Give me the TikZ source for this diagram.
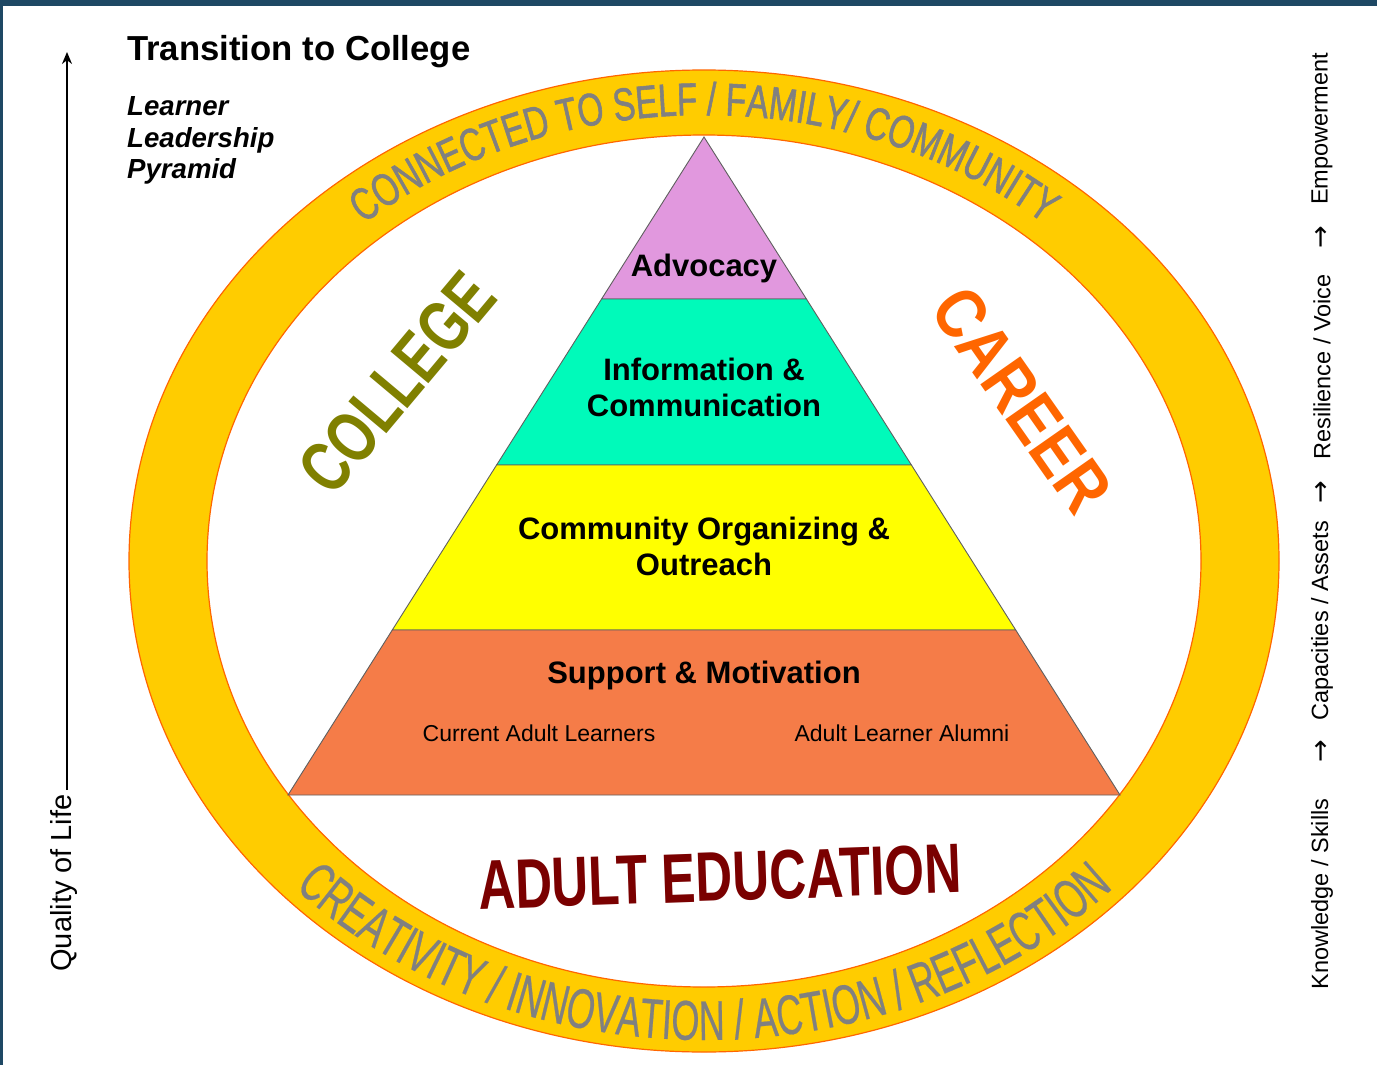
\documentclass[tikz,border=0pt]{standalone}
\usepackage{fontspec}
\setmainfont{Liberation Sans}
\newfontfamily\arrfont{DejaVu Sans}
\newfontfamily\topringfont[FakeStretch=0.72,FakeBold=1.2]{Liberation Sans}
\newfontfamily\botringfont[FakeStretch=0.645,FakeBold=0.4]{Liberation Sans}
\newfontfamily\collegefont[FakeStretch=0.75]{Liberation Sans}
\newfontfamily\careerfont[FakeStretch=0.85]{Liberation Sans}
\newfontfamily\adultfont[FakeStretch=0.73]{Liberation Sans}
\usetikzlibrary{decorations.text,arrows.meta}

\definecolor{topbar}{RGB}{30,72,100}
\definecolor{ringyellow}{RGB}{255,204,0}
\definecolor{ringedge}{RGB}{255,102,0}
\definecolor{ringgray}{RGB}{128,128,128}
\definecolor{advoc}{RGB}{225,152,222}
\definecolor{infoc}{RGB}{0,250,186}
\definecolor{commc}{RGB}{255,255,0}
\definecolor{suppc}{RGB}{245,124,72}
\definecolor{olivec}{RGB}{128,128,0}
\definecolor{careerc}{RGB}{255,102,0}
\definecolor{adultc}{RGB}{122,0,0}
\definecolor{edgegray}{RGB}{95,95,95}

\tikzset{
  layer/.style={draw=edgegray, line width=0.9},
  head/.style={font=\bfseries\fontsize{31}{36}\selectfont, anchor=base, inner sep=0},
  sub/.style={font=\fontsize{23}{26}\selectfont, anchor=base, inner sep=0},
  side/.style={font=\fontsize{23.5}{26}\selectfont, rotate=90, inner sep=0},
  sidearrow/.style={font=\arrfont\fontsize{27}{30}\selectfont, rotate=90, inner sep=0},
  ital/.style={font=\bfseries\itshape\fontsize{27.6}{30}\selectfont, anchor=base west, inner sep=0},
}

\begin{document}
\begin{tikzpicture}[x=1pt,y=-1pt]
\useasboundingbox (0,0) rectangle (1377,1065);
\fill[white] (0,0) rectangle (1377,1065);
\fill[topbar] (0,0) rectangle (1377,6);
\fill[topbar] (0,0) rectangle (3,1065);

% ring
\path[fill=ringyellow, draw=ringedge, line width=1.2, even odd rule]
  (704,561) ellipse [x radius=575, y radius=491]
  (704,561) ellipse [x radius=497, y radius=426];

% ring texts
\path[decorate, decoration={text along path, text align=center, text color=ringgray,
  text={|\topringfont\fontsize{46}{46}\selectfont|CONNECTED TO SELF / FAMILY/ COMMUNITY}}]
  plot[domain=160:20, samples=90, smooth] ({704+520*cos(\x)},{561-446*sin(\x)});
\path[decorate, decoration={text along path, text align=center, text color=ringgray,
  text={|\botringfont\fontsize{56}{56}\selectfont|CREATIVITY / INNOVATION / ACTION / REFLECTION}}]
  plot[domain=200:340, samples=90, smooth] ({704+560*cos(\x)},{561-479*sin(\x)});

% pyramid
\path[layer, fill=advoc] (704,137) -- (806.4,299) -- (601.6,299) -- cycle;
\path[layer, fill=infoc] (601.6,299) -- (806.4,299) -- (911.4,465) -- (496.6,465) -- cycle;
\path[layer, fill=commc] (496.6,465) -- (911.4,465) -- (1015.7,630) -- (392.3,630) -- cycle;
\path[layer, fill=suppc] (392.3,630) -- (1015.7,630) -- (1120,795) -- (288,795) -- cycle;

\node[head] (adv) at (704,276) {Advocacy};
\node[head] (info1) at (704,380) {Information \&};
\node[head] (info2) at (704,416) {Communication};
\node[head] (comm1) at (704,539) {Community Organizing \&};
\node[head] (comm2) at (704,575) {Outreach};
\node[head] (supp) at (704,683) {Support \& Motivation};
\node[sub] (cur) at (539,741) {Current Adult Learners};
\node[sub] (alum) at (902,741) {Adult Learner Alumni};

% big words
\node[font=\collegefont\bfseries\fontsize{72}{72}\selectfont, text=olivec, rotate=50, inner sep=0] (college) at (397,383) {COLLEGE};
\node[font=\careerfont\bfseries\fontsize{71}{71}\selectfont, text=careerc, rotate=-55, inner sep=0] (career) at (1022,400) {CAREER};
\node[font=\adultfont\bfseries\fontsize{70}{70}\selectfont, text=adultc, rotate=2, inner sep=0] (adulted) at (720,877) {ADULT EDUCATION};

% titles
\node[font=\bfseries\fontsize{34.7}{36}\selectfont, anchor=base west, inner sep=0] (title) at (127,61) {Transition to College};
\node[ital] (lrn1) at (127,115) {Learner};
\node[ital] (lrn2) at (127,147) {Leadership};
\node[ital] (lrn3) at (127,178) {Pyramid};

% left axis
\node[font=\fontsize{29}{30}\selectfont, rotate=90, inner sep=0] (qol) at (64,883) {Quality of Life};
\coordinate (axbot) at (67,790);
\coordinate (axtop) at (67,52);
\draw[line width=2, -{Stealth[length=12,width=10]}] (axbot) -- (axtop);

% right scale
\node[side] (k1) at (1322,894) {Knowledge / Skills};
\node[sidearrow] (a1) at (1322,751) {→};
\node[side] (k2) at (1322,621) {Capacities / Assets};
\node[sidearrow] (a2) at (1322,492) {→};
\node[side] (k3) at (1322,367) {Resilience / Voice};
\node[sidearrow] (a3) at (1322,237) {→};
\node[side] (k4) at (1322,129) {Empowerment};
\end{tikzpicture}
\end{document}
